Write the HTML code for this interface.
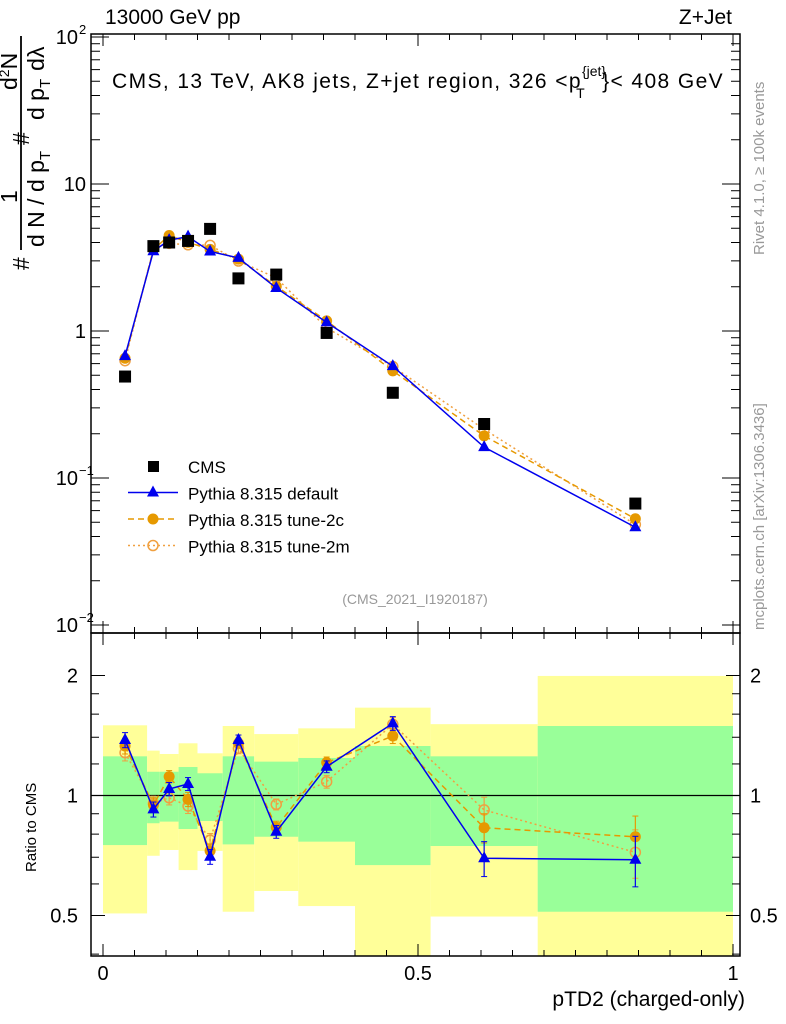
<!DOCTYPE html>
<html><head><meta charset="utf-8"><style>
body{margin:0;background:#fff;}
svg{display:block;font-family:"Liberation Sans",sans-serif;}
</style></head><body>
<svg id="c" width="786" height="1024" viewBox="0 0 786 1024" xmlns="http://www.w3.org/2000/svg">
<g id="bands"></g>
<g id="frame"></g>
<g id="marks"></g>
<text x="105" y="24" font-size="21">13000 GeV pp</text>
<text x="732" y="24" font-size="21" text-anchor="end">Z+Jet</text>
<text x="112" y="88" font-size="21" letter-spacing="1.4">CMS, 13 TeV, AK8 jets, Z+jet region, 326 &lt;p<tspan dy="-12" font-size="14" letter-spacing="0">{jet}</tspan><tspan dx="-30" dy="22" font-size="14">T</tspan><tspan dx="16" dy="-10">}&lt; 408 GeV</tspan></text>
<text x="415" y="604" font-size="14" fill="#999" text-anchor="middle">(CMS_2021_I1920187)</text>
<text transform="translate(764,255) rotate(-90)" font-size="15" fill="#999">Rivet 4.1.0, ≥ 100k events</text>
<text transform="translate(764,630) rotate(-90)" font-size="15" fill="#999">mcplots.cern.ch [arXiv:1306.3436]</text>
<g font-size="23">
<line x1="21" y1="36" x2="21" y2="250" stroke="#000" stroke-width="1.8"/>
<text transform="translate(29,270) rotate(-90)">#</text>
<text transform="translate(17,203) rotate(-90)">1</text>
<text transform="translate(44,247) rotate(-90)">d N / d p<tspan font-size="15" dy="6">T</tspan></text>
<text transform="translate(29,145) rotate(-90)">#</text>
<text transform="translate(17,90) rotate(-90)">d<tspan font-size="14" dy="-8">2</tspan><tspan dy="8">N</tspan></text>
<text transform="translate(44,120) rotate(-90)">d p<tspan font-size="15" dy="6">T</tspan><tspan dy="-6" dx="8">d</tspan>λ</text>
</g>
<text transform="translate(36,872) rotate(-90)" font-size="15">Ratio to CMS</text>
<text x="745" y="1006" font-size="21" text-anchor="end">pTD2 (charged-only)</text>
<g id="legend"></g>
</svg>
<script>
const xCenters=[0.035,0.08,0.105,0.135,0.17,0.215,0.275,0.355,0.46,0.605,0.845];
const binEdges=[0,0.07,0.09,0.12,0.15,0.19,0.24,0.31,0.40,0.52,0.69,1.0];
const cmsValues=[0.49,3.78,4.0,4.1,4.95,2.28,2.42,0.97,0.38,0.233,0.067];
const ratioDefault=[1.378,0.923,1.038,1.069,0.702,1.378,0.811,1.181,1.517,0.696,0.690];
const ratio2c=[1.331,0.947,1.115,0.978,0.726,1.352,0.832,1.209,1.41,0.830,0.788];
const ratio2m=[1.281,0.956,0.987,0.941,0.773,1.313,0.950,1.083,1.509,0.920,0.720];
const errDefault=[0.06,0.04,0.04,0.04,0.03,0.04,0.03,0.04,0.06,0.07,0.1];
const band1Up=[1.254,1.147,1.147,1.179,1.137,1.254,1.216,1.242,1.331,1.254,1.494];
const band1Lo=[0.751,0.852,0.86,0.824,0.863,0.754,0.788,0.766,0.669,0.747,0.511];
const band2Up=[1.50,1.296,1.271,1.352,1.276,1.494,1.426,1.474,1.661,1.51,1.995];
const band2Lo=[0.506,0.706,0.730,0.650,0.726,0.511,0.576,0.528,0.3,0.497,0.3];

const NS="http://www.w3.org/2000/svg";
const X0=91,X1=740,T=34,MB=633,RB=956;
const xs=v=>103+630*v;
const ym=v=>331-147*Math.log10(v);
const yr=r=>Math.min(RB,Math.max(MB,795.5-398.6*Math.log10(r)));
function mk(p,tag,at){const e=document.createElementNS(NS,tag);for(const k in at)e.setAttribute(k,at[k]);p.appendChild(e);return e;}
const bands=document.getElementById('bands'),frame=document.getElementById('frame'),marks=document.getElementById('marks'),legend=document.getElementById('legend');

for(let i=0;i<band2Up.length;i++){
 const xa=xs(binEdges[i]),xb=xs(binEdges[i+1]);
 const y2=mk(bands,'rect',{x:xa,y:yr(band2Up[i]),width:xb-xa,height:yr(band2Lo[i])-yr(band2Up[i]),fill:'#ffff99'});
 
 
 const y1=mk(bands,'rect',{x:xa,y:yr(band1Up[i]),width:xb-xa,height:yr(band1Lo[i])-yr(band1Up[i]),fill:'#99ff99'});
 
 
}
mk(frame,'rect',{x:X0,y:T,width:X1-X0,height:MB-T,fill:'none',stroke:'#000','stroke-width':1.5});
mk(frame,'rect',{x:X0,y:MB,width:X1-X0,height:RB-MB,fill:'none',stroke:'#000','stroke-width':1.5});
mk(frame,'line',{x1:X0,y1:yr(1),x2:X1,y2:yr(1),stroke:'#000','stroke-width':1.2});
for(let k=0;k<=20;k++){const v=k*0.05,x=xs(v),L=(k%10==0)?12:6;
 for(const [yb,dir] of [[MB,-1],[T,1],[RB,-1],[MB,1]]) mk(frame,'line',{x1:x,y1:yb,x2:x,y2:yb+dir*L,stroke:'#000'});}
['0','0.5','1'].forEach((t,i)=>{const e=mk(frame,'text',{x:xs(i*0.5),y:980,'font-size':20,'text-anchor':'middle'});e.textContent=t;
 
 });
for(let d=-2;d<=1;d++)for(let m=1;m<10;m++){const v=m*Math.pow(10,d),y=ym(v);if(y<T||y>MB)continue;const L=m==1?18:9;
 mk(frame,'line',{x1:X0,y1:y,x2:X0+L,y2:y,stroke:'#000'});mk(frame,'line',{x1:X1,y1:y,x2:X1-L,y2:y,stroke:'#000'});}
mk(frame,'line',{x1:X0,y1:ym(100),x2:X0+18,y2:ym(100),stroke:'#000'});
const yl=[[100,'10','2'],[10,'10',''],[1,'1',''],[0.1,'10','−1'],[0.01,'10','−2']];
yl.forEach(([v,b,s])=>{const e=mk(frame,'text',{x:s?78:86,y:ym(v)+7,'font-size':20,'text-anchor':'end'});e.textContent=b;
 
 
 if(s){const t=mk(frame,'text',{x:79,y:ym(v)-3,'font-size':13});t.textContent=s;}});
[0.4,0.5,0.6,0.7,0.8,0.9,1,1.2,1.4,1.6,1.8,2].forEach(r=>{const y=795.5-398.6*Math.log10(r);if(y<MB||y>RB)return;const L=(r==0.5||r==1||r==2)?14:8;
 mk(frame,'line',{x1:X0,y1:y,x2:X0+L,y2:y,stroke:'#000'});mk(frame,'line',{x1:X1,y1:y,x2:X1-L,y2:y,stroke:'#000'});});
[[2,'2'],[1,'1'],[0.5,'0.5']].forEach(([r,t])=>{const y=yr(r)+7;
 const a=mk(frame,'text',{x:78,y,'font-size':20,'text-anchor':'end'});a.textContent=t;
 
 
 const b=mk(frame,'text',{x:750,y,'font-size':20});b.textContent=t;
 
 });

const blue='#0000ee',orange='#e69900',orange2='#f0a040';
const series=[
 {r:ratioDefault,c:blue,dash:'',m:'tri',name:'pythia-default'},
 {r:ratio2c,c:orange,dash:'6,4',m:'dot',name:'pythia-tune-2c'},
 {r:ratio2m,c:orange2,dash:'2,3',m:'circ',name:'pythia-tune-2m'}];
function marker(g,m,x,y,c){
 if(m=='tri')return mk(g,'path',{d:`M${x},${y-7}L${x+6},${y+4}L${x-6},${y+4}Z`,fill:c});
 if(m=='dot')return mk(g,'circle',{cx:x,cy:y,r:5.5,fill:c});
 if(m=='circ')return mk(g,'circle',{cx:x,cy:y,r:5,fill:'none',stroke:c,'stroke-width':1.5});
 return mk(g,'rect',{x:x-6,y:y-6,width:12,height:12,fill:c});}
[...series].reverse().forEach(s=>{
 const g=mk(marks,'g',{});
 
 
 const mp=xCenters.map((x,i)=>`${xs(x)},${ym(cmsValues[i]*s.r[i])}`).join(' ');
 const rp=xCenters.map((x,i)=>`${xs(x)},${yr(s.r[i])}`).join(' ');
 mk(g,'polyline',{points:mp,fill:'none',stroke:s.c,'stroke-width':1.5,'stroke-dasharray':s.dash});
 mk(g,'polyline',{points:rp,fill:'none',stroke:s.c,'stroke-width':1.5,'stroke-dasharray':s.dash});
 xCenters.forEach((x,i)=>{
  const e=errDefault[i],ya=yr(s.r[i]+e),yb=yr(s.r[i]-e);
  mk(g,'line',{x1:xs(x),y1:ya,x2:xs(x),y2:yb,stroke:s.c,'stroke-width':1.2});
  mk(g,'line',{x1:xs(x)-3,y1:ya,x2:xs(x)+3,y2:ya,stroke:s.c,'stroke-width':1});
  mk(g,'line',{x1:xs(x)-3,y1:yb,x2:xs(x)+3,y2:yb,stroke:s.c,'stroke-width':1});
  const a=marker(g,s.m,xs(x),ym(cmsValues[i]*s.r[i]),s.c);
  
  
  const b=marker(g,s.m,xs(x),yr(s.r[i]),s.c);
  
  
 });
});
xCenters.forEach((x,i)=>{const r=marker(marks,'sq',xs(x),ym(cmsValues[i]),'#000');
 
 });

const leg=[['CMS','#000','', 'sq'],['Pythia 8.315 default',blue,'','tri'],['Pythia 8.315 tune-2c',orange,'6,4','dot'],['Pythia 8.315 tune-2m',orange2,'2,3','circ']];
leg.forEach((l,i)=>{const y=466+26.5*i;
 const g=mk(legend,'g',{});
 
 
 if(i>0)mk(g,'line',{x1:128,y1:y,x2:178,y2:y,stroke:l[1],'stroke-width':1.5,'stroke-dasharray':l[2]});
 if(i==0)mk(g,'rect',{x:148,y:y-5,width:11,height:11,fill:'#000'});else marker(g,l[3],153,y,l[1]);
 const t=mk(g,'text',{x:188,y:y+7,'font-size':17});t.textContent=l[0];});
</script>
</body></html>
